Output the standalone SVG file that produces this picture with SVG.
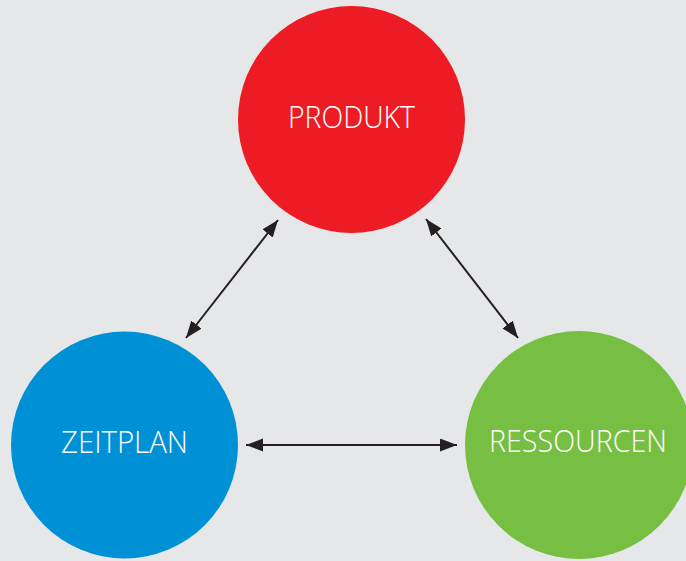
<svg xmlns="http://www.w3.org/2000/svg" width="686" height="561" viewBox="0 0 686 561">
<defs>
<style>
.lbl{font-family:"Open Sans","Liberation Sans",sans-serif;font-weight:300;font-size:31px;fill:#ffffff;text-anchor:middle}
.conn{stroke:#231F20;stroke-width:2;fill:none;marker-start:url(#ah);marker-end:url(#ah)}
</style>
<marker id="ah" markerUnits="userSpaceOnUse" markerWidth="18" markerHeight="14" refX="17" refY="6.5" orient="auto-start-reverse" viewBox="0 0 18 14">
<path d="M0,0 L17,6.5 L0,13 Z" fill="#231F20"/>
</marker>
</defs>
<rect width="686" height="561" fill="#E6E7E9"/>
<g id="produkt">
<circle cx="351.5" cy="119.5" r="113.5" fill="#ED1C24"/>
<text class="lbl" x="351.5" y="128" textLength="127" lengthAdjust="spacingAndGlyphs">PRODUKT</text>
</g>
<g id="zeitplan">
<circle cx="124.5" cy="445" r="113.5" fill="#0090D5"/>
<text class="lbl" x="124.5" y="453" textLength="127" lengthAdjust="spacingAndGlyphs">ZEITPLAN</text>
</g>
<g id="ressourcen">
<circle cx="579" cy="445" r="114" fill="#76BF43"/>
<text class="lbl" x="578" y="452" textLength="178" lengthAdjust="spacingAndGlyphs">RESSOURCEN</text>
</g>
<g id="connectors">
<line class="conn" x1="278" y1="220" x2="186" y2="338"/>
<line class="conn" x1="426" y1="219" x2="518" y2="338"/>
<line class="conn" x1="246" y1="445" x2="457" y2="445"/>
</g>
</svg>
